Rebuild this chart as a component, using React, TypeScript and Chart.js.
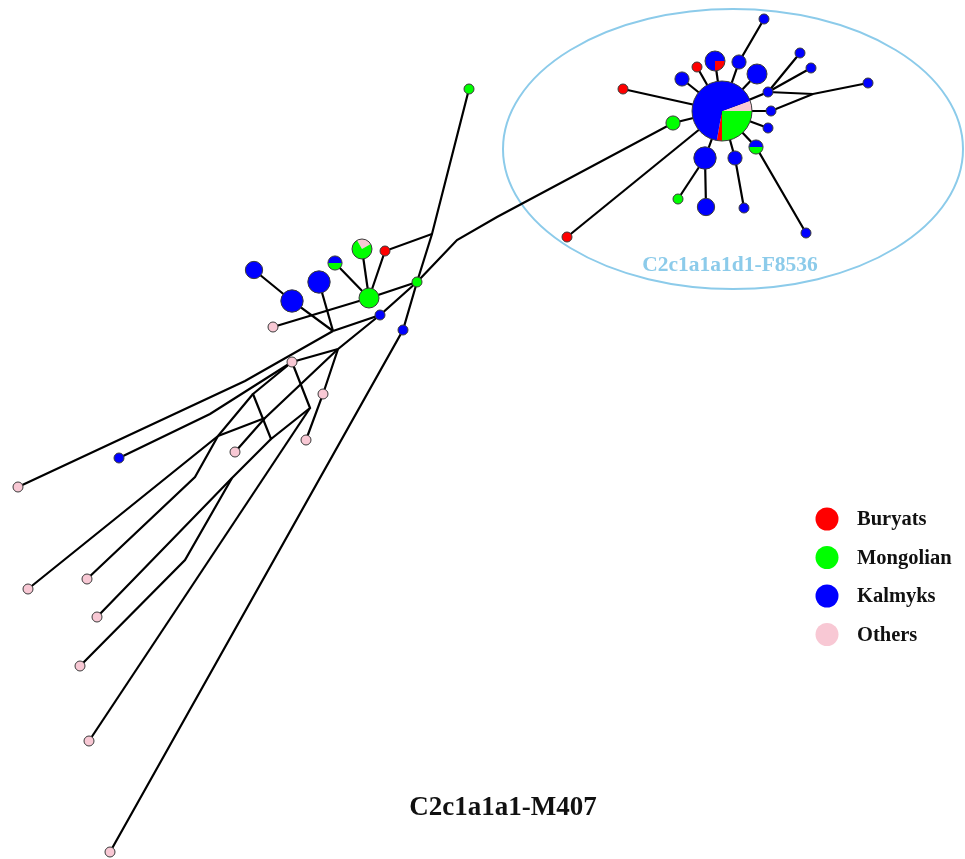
import React, { useEffect, useRef } from "react";
import { Chart, registerables } from "chart.js";

Chart.register(...registerables);

const groups = ["Buryats", "Mongolian", "Kalmyks", "Others"];
const groupColors = ["#ff0000", "#00ff00", "#0000ff", "#f8c8d4"];
const chartTitle = "C2c1a1a1-M407";
const cladeLabel = "C2c1a1a1d1-F8536";

// haplotype: name, x, y, Buryats, Mongolian, Kalmyks, Others
const haplotypes: [string, number, number, number, number, number, number][] = [
  ["C", 722, 111, 1, 9, 24, 2],
  ["R1", 623, 89, 1, 0, 0, 0],
  ["R2", 697, 67, 1, 0, 0, 0],
  ["K1", 682, 79, 0, 0, 2, 0],
  ["BR", 715, 61, 1, 0, 3, 0],
  ["K2", 739, 62, 0, 0, 2, 0],
  ["K3", 764, 19, 0, 0, 1, 0],
  ["K4", 757, 74, 0, 0, 4, 0],
  ["K5", 768, 92, 0, 0, 1, 0],
  ["K6", 800, 53, 0, 0, 1, 0],
  ["K7", 811, 68, 0, 0, 1, 0],
  ["K8", 868, 83, 0, 0, 1, 0],
  ["K9", 771, 111, 0, 0, 1, 0],
  ["K10", 768, 128, 0, 0, 1, 0],
  ["KG1", 756, 147, 0, 1, 1, 0],
  ["K11", 806, 233, 0, 0, 1, 0],
  ["K12", 735, 158, 0, 0, 2, 0],
  ["K13", 744, 208, 0, 0, 1, 0],
  ["K14", 705, 158, 0, 0, 5, 0],
  ["K15", 706, 207, 0, 0, 3, 0],
  ["G1", 678, 199, 0, 1, 0, 0],
  ["G2", 673, 123, 0, 2, 0, 0],
  ["R3", 567, 237, 1, 0, 0, 0],
  ["L1", 254, 270, 0, 0, 3, 0],
  ["L2", 292, 301, 0, 0, 5, 0],
  ["L3", 319, 282, 0, 0, 5, 0],
  ["LKG", 335, 263, 0, 1, 1, 0],
  ["LGP", 362, 249, 0, 3, 0, 1],
  ["R4", 385, 251, 1, 0, 0, 0],
  ["G3", 369, 298, 0, 4, 0, 0],
  ["G4", 417, 282, 0, 1, 0, 0],
  ["G5", 469, 89, 0, 1, 0, 0],
  ["K16", 380, 315, 0, 0, 1, 0],
  ["K17", 403, 330, 0, 0, 1, 0],
  ["K18", 119, 458, 0, 0, 1, 0],
  ["P1", 273, 327, 0, 0, 0, 1],
  ["P2", 292, 362, 0, 0, 0, 1],
  ["P3", 323, 394, 0, 0, 0, 1],
  ["P4", 306, 440, 0, 0, 0, 1],
  ["P5", 235, 452, 0, 0, 0, 1],
  ["Pa", 18, 487, 0, 0, 0, 1],
  ["Pb", 28, 589, 0, 0, 0, 1],
  ["Pc", 87, 579, 0, 0, 0, 1],
  ["Pd", 97, 617, 0, 0, 0, 1],
  ["Pe", 80, 666, 0, 0, 0, 1],
  ["Pf", 89, 741, 0, 0, 0, 1],
  ["Pg", 110, 852, 0, 0, 0, 1],
];

// pie rotation (degrees) for mixed haplotypes
const pieRotation: Record<string, number> = { C: -20, LGP: -120 };

// median vectors and bends: name, x, y
const medianVectors: [string, number, number][] = [
  ["J5", 813, 94],
  ["V1", 497, 217],
  ["V2", 457, 240],
  ["V3", 438, 260],
  ["J2", 432, 234],
  ["M1", 333, 331],
  ["M2", 338, 349],
  ["B1", 245, 381],
  ["B2", 210, 414],
  ["J3", 218, 436],
  ["B3", 195, 477],
  ["RL", 253, 394],
  ["RB", 271, 439],
  ["RR", 310, 408],
  ["X", 265, 418],
  ["J4", 232, 478],
  ["B4", 185, 560],
];

const links: string[][] = [
  ["C", "R1"], ["C", "K1"], ["C", "R2"], ["C", "BR"], ["C", "K2", "K3"],
  ["C", "K4"], ["C", "K5", "K6"], ["K5", "K7"], ["K5", "J5", "K8"], ["C", "K9", "J5"],
  ["C", "K10"], ["C", "KG1", "K11"], ["C", "K12", "K13"], ["C", "K14", "K15"], ["K14", "G1"],
  ["C", "G2", "V1", "V2", "V3", "G4"], ["C", "R3"],
  ["G4", "G3", "LKG"], ["G3", "LGP"], ["G3", "R4", "J2", "G5"], ["J2", "G4"], ["G3", "P1"],
  ["G4", "K17", "Pg"], ["G4", "K16", "M1"], ["L1", "L2", "M1"], ["L3", "M1"],
  ["K16", "M2", "P2"], ["M2", "P3", "P4"], ["Pa", "B1", "M1"], ["K18", "B2", "P2"],
  ["P2", "RL", "RB", "RR", "P2"], ["Pb", "J3", "RL"], ["Pc", "B3", "J3"], ["J3", "X"],
  ["P5", "X", "M2"], ["RB", "J4", "Pd"], ["J4", "B4", "Pe"], ["RR", "Pf"],
];

// clade ellipse: center x, center y, radius x, radius y
const cladeEllipse = [733, 149, 230, 140];

const W = 965;
const H = 859;

export default function App() {
  const ref = useRef<HTMLCanvasElement>(null);
  useEffect(() => {
    if (!ref.current) return;
    const pos = new Map<string, { x: number; y: number }>();
    haplotypes.forEach((h) => pos.set(h[0], { x: h[1], y: h[2] }));
    medianVectors.forEach((m) => pos.set(m[0], { x: m[1], y: m[2] }));

    const radiusOf = (i: number) => {
      const h = haplotypes[i];
      const n = h[3] + h[4] + h[5] + h[6];
      return 5 * Math.sqrt(n);
    };

    const linkSets: any[] = links.map((path) => ({
      data: path.map((n) => pos.get(n)),
      showLine: true,
      borderColor: "#000",
      borderWidth: 2.2,
      pointRadius: 0,
      pointHoverRadius: 0,
      tension: 0,
      fill: false,
    }));
    const nodeSet: any = {
      data: haplotypes.map((h) => ({ x: h[1], y: h[2] })),
      pointRadius: (ctx: any) => radiusOf(ctx.dataIndex),
      backgroundColor: "rgba(0,0,0,0)",
      borderColor: "rgba(0,0,0,0)",
      borderWidth: 0,
    };
    const nodeIndex = linkSets.length;

    const network = {
      id: "network",
      beforeDatasetsDraw(chart: any) {
        const ctx = chart.ctx;
        const xs = chart.scales.x;
        const ys = chart.scales.y;
        const [ex, ey, erx, ery] = cladeEllipse;
        const cx = xs.getPixelForValue(ex);
        const cy = ys.getPixelForValue(ey);
        const rx = xs.getPixelForValue(ex + erx) - cx;
        const ry = Math.abs(ys.getPixelForValue(ey + ery) - cy);
        ctx.save();
        ctx.beginPath();
        ctx.ellipse(cx, cy, rx, ry, 0, 0, Math.PI * 2);
        ctx.strokeStyle = "#8ccbea";
        ctx.lineWidth = 2;
        ctx.stroke();
        ctx.restore();
      },
      afterDatasetsDraw(chart: any) {
        const ctx = chart.ctx;
        const meta = chart.getDatasetMeta(nodeIndex);
        const order = [3, 1, 0, 2];
        ctx.save();
        meta.data.forEach((el: any, i: number) => {
          const h = haplotypes[i];
          const counts = [h[3], h[4], h[5], h[6]];
          const total = counts.reduce((a, b) => a + b, 0);
          const r = radiusOf(i);
          let a = ((pieRotation[h[0]] || 0) * Math.PI) / 180;
          order.forEach((g) => {
            if (!counts[g]) return;
            const span = (counts[g] / total) * Math.PI * 2;
            ctx.beginPath();
            ctx.moveTo(el.x, el.y);
            ctx.arc(el.x, el.y, r, a, a + span);
            ctx.closePath();
            ctx.fillStyle = groupColors[g];
            ctx.fill();
            a += span;
          });
          ctx.beginPath();
          ctx.arc(el.x, el.y, r, 0, Math.PI * 2);
          ctx.strokeStyle = "#3a3a3a";
          ctx.lineWidth = 1;
          ctx.stroke();
        });

        // clade label
        ctx.font = "bold 21.5px 'Liberation Serif', 'Times New Roman', serif";
        ctx.fillStyle = "#8ccbea";
        ctx.textAlign = "center";
        ctx.textBaseline = "alphabetic";
        ctx.fillText(cladeLabel, chart.scales.x.getPixelForValue(730), chart.scales.y.getPixelForValue(271));

        // title
        ctx.font = "bold 27px 'Liberation Serif', 'Times New Roman', serif";
        ctx.fillStyle = "#111";
        ctx.fillText(chartTitle, chart.scales.x.getPixelForValue(503), chart.scales.y.getPixelForValue(815));

        // legend
        ctx.textAlign = "left";
        ctx.textBaseline = "middle";
        ctx.font = "bold 20.5px 'Liberation Serif', 'Times New Roman', serif";
        groups.forEach((g, k) => {
          const y = 519 + k * 38.5;
          ctx.beginPath();
          ctx.arc(827, y, 11.5, 0, Math.PI * 2);
          ctx.fillStyle = groupColors[k];
          ctx.fill();
          ctx.fillStyle = "#111";
          ctx.fillText(g, 857, y + 1);
        });
        ctx.restore();
      },
    };

    const chart = new Chart(ref.current, {
      type: "scatter",
      data: { datasets: [...linkSets, nodeSet] },
      options: {
        animation: false,
        responsive: true,
        maintainAspectRatio: false,
        layout: { padding: 0, autoPadding: false } as any,
        scales: {
          x: { type: "linear", min: 0, max: W, display: false },
          y: { type: "linear", min: 0, max: H, reverse: true, display: false },
        },
        plugins: { legend: { display: false }, tooltip: { enabled: false } },
        events: [],
      },
      plugins: [network],
    });
    return () => chart.destroy();
  }, []);

  return (
    <div style={{ position: "fixed", left: 0, top: 0, width: W, height: H, background: "#fff" }}>
      <canvas ref={ref} />
    </div>
  );
}
